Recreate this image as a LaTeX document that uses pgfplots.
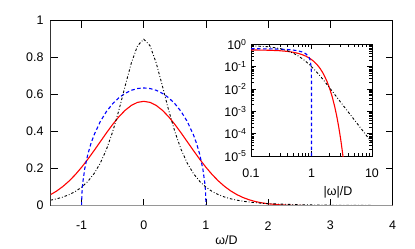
\documentclass[border=0pt]{standalone}
\usepackage{pgfplots}
\pgfplotsset{compat=1.18}
\usepackage{fontspec}
\setmainfont{Liberation Sans}
\definecolor{axgray}{RGB}{150,150,150}
\begin{document}
\begin{tikzpicture}
\useasboundingbox (-50.5bp,-43.3bp) rectangle (364.5bp,205.7bp);
\begin{axis}[
  at={(0,0)}, anchor=south west,
  width=342bp, height=185bp, scale only axis,
  xmin=-1.5, xmax=4, ymin=0, ymax=1,
  xtick={-1,0,1,2,3,4}, xticklabels={-1,0,1,2,3,4},
  ytick={0,0.2,0.4,0.6,0.8,1}, yticklabels={0,0.2,0.4,0.6,0.8,1},
  tick align=inside, major tick length=7bp,
  tick style={black, line width=0.6bp},
  axis line style={black, line width=0.8bp},
  tick label style={font=\fontsize{12.5}{14}\selectfont},
  label style={font=\fontsize{12.5}{14}\selectfont},
  xticklabel style={anchor=center, yshift=-20bp},
  yticklabel style={xshift=-3.5bp},
  xlabel={ω/D},
  xlabel style={at={(axis description cs:0.5146,0)}, anchor=center, yshift=-34.5bp},
]
% Gaussian (red)
\addplot[red, line width=1.1bp] coordinates {
(-1.5,0.0595)(-1.4,0.0795)(-1.3,0.1041)(-1.2,0.1337)(-1.1,0.1682)(-1.0,0.2076)
(-0.9,0.2510)(-0.8,0.2975)(-0.7,0.3456)(-0.6,0.3936)(-0.5,0.4394)(-0.4,0.4808)
(-0.3,0.5156)(-0.2,0.5421)(-0.1,0.5586)(0,0.5642)(0.1,0.5586)(0.2,0.5421)
(0.3,0.5156)(0.4,0.4808)(0.5,0.4394)(0.6,0.3936)(0.7,0.3456)(0.8,0.2975)
(0.9,0.2510)(1.0,0.2076)(1.1,0.1682)(1.2,0.1337)(1.3,0.1041)(1.4,0.0795)
(1.5,0.0595)(1.6,0.0436)(1.7,0.0314)(1.8,0.0221)(1.9,0.0153)(2.0,0.01034)
(2.2,0.00446)(2.4,0.001778)(2.6,0.000654)(2.8,0.000222)(3.0,0.0000696)
(3.4,0.0000054)(4.0,0.0000001)};
% semicircle (blue dashed)
\addplot[blue, line width=1.1bp, dash pattern=on 3.5bp off 2.5bp] coordinates {
(-1,0)(-0.995,0.0636)(-0.99,0.0898)(-0.98,0.1267)(-0.95,0.1988)(-0.9,0.2775)
(-0.85,0.3354)(-0.8,0.3820)(-0.7,0.4546)(-0.6,0.5093)(-0.5,0.5513)(-0.4,0.5835)
(-0.3,0.6073)(-0.2,0.6238)(-0.1,0.6334)(0,0.6366)(0.1,0.6334)(0.2,0.6238)
(0.3,0.6073)(0.4,0.5835)(0.5,0.5513)(0.6,0.5093)(0.7,0.4546)(0.8,0.3820)
(0.85,0.3354)(0.9,0.2775)(0.95,0.1988)(0.98,0.1267)(0.99,0.0898)(0.995,0.0636)(1,0)};
% third DOS (black dash-dot)
\addplot[black, line width=0.9bp, dash pattern=on 2.5bp off 2bp on 0.8bp off 2bp] coordinates {
(-1.5,0.0298)(-1.4,0.0372)(-1.3,0.0469)(-1.2,0.0598)(-1.1,0.0769)(-1.0,0.1)
(-0.9,0.1311)(-0.8,0.1731)(-0.7,0.2296)(-0.6,0.3042)(-0.5,0.4)(-0.4,0.5165)
(-0.3,0.6464)(-0.2,0.7716)(-0.1,0.8651)(0,0.9)(0.1,0.8651)(0.2,0.7716)
(0.3,0.6464)(0.4,0.5165)(0.5,0.4)(0.6,0.3042)(0.7,0.2296)(0.8,0.1731)
(0.9,0.1311)(1.0,0.1)(1.1,0.0769)(1.2,0.0598)(1.3,0.0469)(1.4,0.0372)
(1.5,0.0298)(1.6,0.0240)(1.7,0.0196)(1.8,0.0161)(1.9,0.0133)(2.0,0.0111)
(2.5,0.00504)(3.0,0.00266)(3.5,0.00155)(4.0,0.00097)};
\draw[axgray, line width=1.6bp] (rel axis cs:0,1) -- (rel axis cs:0,0) -- (rel axis cs:1,0);
\end{axis}
\begin{axis}[
  at={(200.5bp,49.7bp)}, anchor=south west,
  width=121bp, height=111.7bp, scale only axis,
  xmode=log, ymode=log,
  xmin=0.1, xmax=10, ymin=1e-5, ymax=1,
  axis background/.style={fill=white},
  xtick={0.1,1,10}, xticklabels={0.1,1,10},
  minor xtick={0.2,0.3,0.4,0.5,0.6,0.7,0.8,0.9,2,3,4,5,6,7,8,9},
  ytick={1e-5,1e-4,1e-3,1e-2,1e-1,1},
  yticklabels={10\textsuperscript{-5},10\textsuperscript{-4},10\textsuperscript{-3},10\textsuperscript{-2},10\textsuperscript{-1},10\textsuperscript{0}},
  minor ytick={2e-5,3e-5,4e-5,5e-5,6e-5,7e-5,8e-5,9e-5,
               2e-4,3e-4,4e-4,5e-4,6e-4,7e-4,8e-4,9e-4,
               2e-3,3e-3,4e-3,5e-3,6e-3,7e-3,8e-3,9e-3,
               2e-2,3e-2,4e-2,5e-2,6e-2,7e-2,8e-2,9e-2,
               0.2,0.3,0.4,0.5,0.6,0.7,0.8,0.9},
  tick align=inside, major tick length=5bp, minor tick length=3bp,
  tick style={black, line width=0.5bp},
  axis line style={black, line width=0.8bp},
  tick label style={font=\fontsize{12.5}{14}\selectfont},
  label style={font=\fontsize{12.5}{14}\selectfont},
  xticklabel style={anchor=center, yshift=-17bp},
  yticklabel style={xshift=-1bp},
  xlabel={|ω|/D},
  xlabel style={at={(axis description cs:0.719,0)}, anchor=center, yshift=-36bp},
]
\addplot[red, line width=1.1bp] coordinates {
(0.1,0.5586)(0.2,0.5421)(0.3,0.5156)(0.4,0.4808)(0.5,0.4394)(0.6,0.3936)
(0.7,0.3456)(0.8,0.2975)(0.9,0.2510)(1.0,0.2076)(1.1,0.1682)(1.2,0.1337)
(1.3,0.1041)(1.4,0.0795)(1.5,0.0595)(1.6,0.0436)(1.8,0.0221)(2.0,0.01034)
(2.2,0.00446)(2.4,0.001778)(2.6,0.000654)(2.8,0.000222)(3.0,0.0000696)
(3.1,0.0000378)(3.2,0.0000202)(3.3,0.0000105)(3.4,0.0000054)};
\addplot[blue, line width=1.1bp, dash pattern=on 3.5bp off 2.5bp] coordinates {
(0.1,0.6334)(0.2,0.6238)(0.3,0.6073)(0.4,0.5835)(0.5,0.5513)(0.6,0.5093)
(0.7,0.4546)(0.8,0.3820)(0.9,0.2775)(0.95,0.1988)(0.99,0.0898)(0.999,0.02846)
(0.99999,0.00285)(1,0.000001)};
\addplot[black, line width=0.9bp, dash pattern=on 2.5bp off 2bp on 0.8bp off 2bp] coordinates {
(0.1,0.8651)(0.2,0.7716)(0.3,0.6464)(0.4,0.5165)(0.5,0.4)(0.6,0.3042)
(0.7,0.2296)(0.8,0.1731)(1.0,0.1)(1.2,0.0598)(1.5,0.0298)(2,0.0111)
(3,0.00266)(4,0.00097)(5,0.000445)(7,0.000138)(10,0.000039)};
\end{axis}
\end{tikzpicture}
\end{document}
